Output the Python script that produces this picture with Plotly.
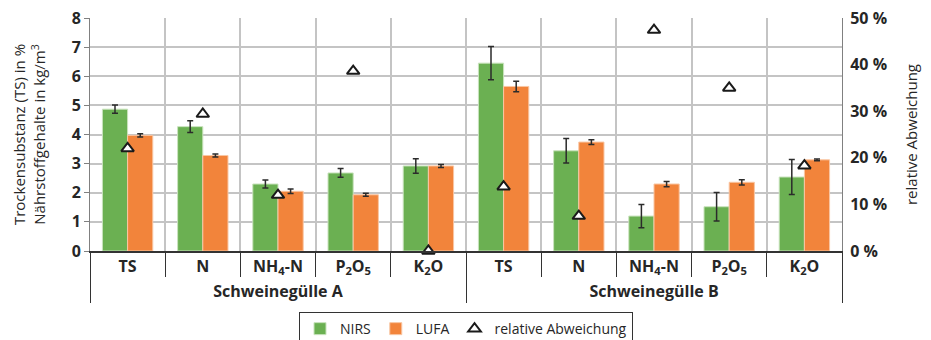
import plotly.graph_objects as go

groups = ["Schweinegülle A", "Schweinegülle B"]
cats = ["TS", "N", "NH<sub>4</sub>-N", "P<sub>2</sub>O<sub>5</sub>", "K<sub>2</sub>O"]

nirs_A = [4.87, 4.27, 2.30, 2.68, 2.92]
nirs_A_err = [0.14, 0.20, 0.14, 0.15, 0.25]
lufa_A = [3.97, 3.28, 2.05, 1.93, 2.92]
lufa_A_err = [0.06, 0.05, 0.08, 0.05, 0.05]
nirs_B = [6.45, 3.44, 1.20, 1.52, 2.54]
nirs_B_err = [0.57, 0.42, 0.40, 0.49, 0.60]
lufa_B = [5.65, 3.74, 2.30, 2.36, 3.13]
lufa_B_err = [0.18, 0.08, 0.09, 0.09, 0.03]
rel_A = [22.0, 29.4, 12.0, 38.6, 0.0]
rel_B = [13.8, 7.5, 47.4, 35.0, 18.3]

x_outer = [groups[0]] * len(cats) + [groups[1]] * len(cats)
x_inner = cats + cats
x = [x_outer, x_inner]

nirs = nirs_A + nirs_B
nirs_err = nirs_A_err + nirs_B_err
lufa = lufa_A + lufa_B
lufa_err = lufa_A_err + lufa_B_err
rel = rel_A + rel_B

GREEN = "#6BB052"
ORANGE = "#F2843B"
TXT = "#262626"
FONT = "Open Sans"

err_style = dict(type="data", visible=True, color="#2b2b2b", thickness=1.5, width=3)

fig = go.Figure()
fig.add_trace(go.Bar(
    x=x, y=nirs, name="NIRS",
    marker=dict(color=GREEN, line=dict(color="#c9e3bd", width=1)),
    error_y=dict(array=nirs_err, **err_style),
))
fig.add_trace(go.Bar(
    x=x, y=lufa, name="LUFA",
    marker=dict(color=ORANGE, line=dict(color="#f9c6a3", width=1)),
    error_y=dict(array=lufa_err, **err_style),
))
fig.add_trace(go.Scatter(
    x=x, y=rel, name="relative Abweichung", yaxis="y2", mode="markers",
    marker=dict(symbol="triangle-up", size=11, color="white",
                line=dict(color="#1a1a1a", width=2)),
    cliponaxis=False,
))

n_cat = len(x_inner)

fig.update_layout(
    width=931, height=340,
    margin=dict(l=90, r=89, t=18, b=89, autoexpand=False),
    paper_bgcolor="white", plot_bgcolor="white",
    font=dict(family=FONT, color=TXT, size=14),
    barmode="group", bargap=0.33, bargroupgap=0,
    showlegend=True,
    legend=dict(orientation="h", x=0.5, xanchor="center", y=-0.262, yanchor="top",
                bordercolor="#333", borderwidth=1, font=dict(size=14),
                itemwidth=30, tracegroupgap=0),
    xaxis=dict(
        type="multicategory", automargin=False,
        range=[-0.5, n_cat - 0.5],
        tickson="boundaries",
        ticks="outside", ticklen=24, tickcolor="#333", tickwidth=1,
        showgrid=True, gridcolor="#c4c4c4", gridwidth=1.5,
        showline=True, linecolor="#333", linewidth=1.5,
        showdividers=True, dividercolor="#333", dividerwidth=1,
        tickfont=dict(size=16, weight="bold", color=TXT),
    ),
    yaxis=dict(
        range=[0, 8], dtick=1, tick0=0, automargin=False,
        showgrid=True, gridcolor="#c4c4c4", gridwidth=1.5,
        showline=True, linecolor="#808080", linewidth=1,
        ticks="outside", ticklen=5, tickcolor="#808080",
        zeroline=False,
        tickfont=dict(size=16, weight="bold", color=TXT),
        title=dict(text="Trockensubstanz (TS) in %<br>Nährstoffgehalte in kg/m<sup>3</sup>",
                   font=dict(size=15, color=TXT), standoff=22),
    ),
    yaxis2=dict(
        range=[0, 50], dtick=10, tick0=0, overlaying="y", side="right", automargin=False,
        ticksuffix=" %", showgrid=False, zeroline=False,
        showline=True, linecolor="#808080", linewidth=1,
        ticks="outside", ticklen=4, tickcolor="rgba(0,0,0,0)",
        tickfont=dict(size=16, weight="bold", color=TXT),
        title=dict(text="relative Abweichung", font=dict(size=15, color=TXT), standoff=20),
    ),
)

fig.write_html("out.html", config={"displayModeBar": False},
               post_script="document.body.style.margin='0';")
